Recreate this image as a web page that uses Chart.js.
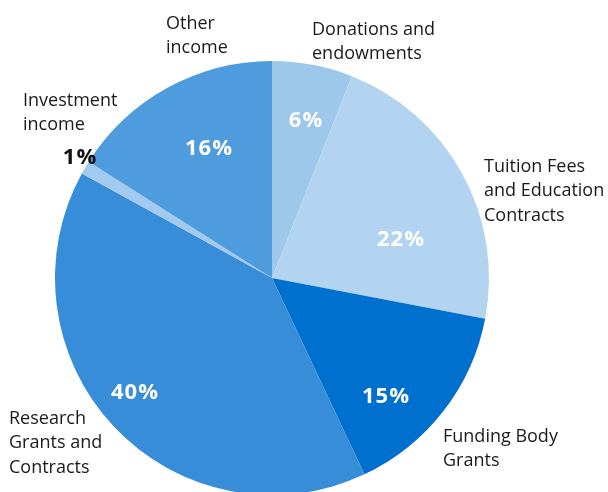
<!DOCTYPE html>
<html>
<head>
<meta charset="utf-8">
<script src="https://cdn.jsdelivr.net/npm/chart.js@4"></script>
<style>
  html, body { margin: 0; padding: 0; background: #fff; overflow: hidden; }
  #wrap { position: relative; width: 608px; height: 496px; }
</style>
</head>
<body>
<div id="wrap"><canvas id="income"></canvas></div>
<script>
// Income sources, clockwise from 12 o'clock
const categories = [
  ['Donations and', 'endowments'],
  ['Tuition Fees', 'and Education', 'Contracts'],
  ['Funding Body', 'Grants'],
  ['Research', 'Grants and', 'Contracts'],
  ['Investment', 'income'],
  ['Other', 'income'],
];
const shares = [6, 22, 15, 40, 1, 16];
const sliceColors = ['#9ec7ec', '#b2d4f1', '#0070cf', '#378dd8', '#a2caee', '#4e9bdd'];

// where each percentage and name sits, as offsets from the pie centre
const pctSpots = [[34, -157], [129, -38], [114, 119], [-137, 115], [-192, -120], [-63, -129]];
const pctColors = ['#fff', '#fff', '#fff', '#fff', '#111', '#fff'];
const nameSpots = [[40, -243], [212, -106], [171, 164], [-263, 146], [-249, -172], [-106, -249]];

const FONT = '"Open Sans", "Noto Sans", sans-serif';

const sliceLabels = {
  id: 'sliceLabels',
  afterDatasetsDraw(chart) {
    const ctx = chart.ctx;
    const arcs = chart.getDatasetMeta(0).data;
    const total = shares.reduce((a, b) => a + b, 0);
    ctx.save();
    arcs.forEach((arc, i) => {
      const cx = arc.x, cy = arc.y;
      // percentage
      ctx.font = 'bold 22px ' + FONT;
      ctx.letterSpacing = '1px';
      ctx.fillStyle = pctColors[i];
      ctx.textAlign = 'center';
      ctx.textBaseline = 'middle';
      const pct = Math.round(shares[i] * 100 / total) + '%';
      ctx.fillText(pct, cx + pctSpots[i][0], cy + pctSpots[i][1]);
      // category name
      ctx.font = '18px ' + FONT;
      ctx.letterSpacing = '0px';
      ctx.fillStyle = '#1a1a1a';
      ctx.textAlign = 'left';
      ctx.textBaseline = 'alphabetic';
      categories[i].forEach((line, k) => {
        ctx.fillText(line, cx + nameSpots[i][0], cy + nameSpots[i][1] + k * 24.3);
      });
    });
    ctx.restore();
  }
};

new Chart(document.getElementById('income'), {
  type: 'pie',
  data: {
    labels: categories.map(c => c.join(' ')),
    datasets: [{
      data: shares,
      backgroundColor: sliceColors,
      borderWidth: 0,
    }],
  },
  options: {
    responsive: true,
    maintainAspectRatio: false,
    animation: false,
    layout: { padding: { left: 55, right: 119, top: 61, bottom: 1 } },
    plugins: {
      legend: { display: false },
      tooltip: { enabled: false },
    },
  },
  plugins: [sliceLabels],
});
</script>
</body>
</html>
